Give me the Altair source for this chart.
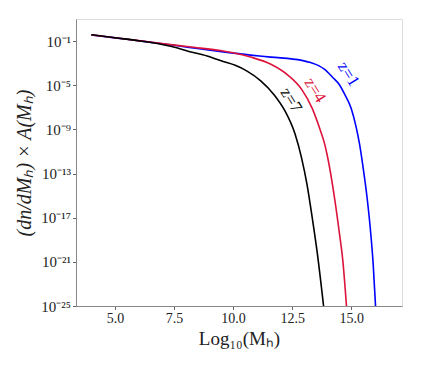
import altair as alt
import pandas as pd

# Curve z=1 (blue): x = log10(Mh), y given as log10 of the plotted value
x_z1 = [4.0, 5.0, 6.0, 7.0, 8.13, 9.58, 10.74, 11.6, 12.91, 13.28, 13.64, 13.86, 14.22, 14.5, 14.72, 15.0, 15.2, 15.35, 15.5, 15.67, 15.8, 15.93, 16.03]
ly_z1 = [-0.45, -0.71, -0.97, -1.24, -1.57, -1.98, -2.27, -2.45, -2.75, -2.95, -3.25, -3.55, -4.3, -4.95, -5.8, -7.1, -8.7, -10.3, -12.4, -15.15, -17.8, -21.2, -25.0]
# Curve z=4 (crimson)
x_z4 = [4.0, 5.0, 6.0, 7.0, 8.13, 9.58, 10.09, 10.74, 11.6, 12.33, 12.91, 13.35, 13.71, 13.86, 14.0, 14.29, 14.5, 14.65, 14.8]
ly_z4 = [-0.44, -0.70, -0.96, -1.22, -1.52, -1.90, -2.1, -2.45, -3.1, -4.1, -5.4, -7.1, -9.2, -10.2, -11.5, -15.15, -18.4, -21.0, -25.0]
# Curve z=7 (black)
x_z7 = [4.0, 5.0, 6.0, 6.68, 7.4, 8.13, 8.9, 9.58, 10.09, 10.59, 11.17, 11.75, 12.19, 12.62, 12.9, 13.13, 13.35, 13.57, 13.83]
ly_z7 = [-0.42, -0.70, -0.97, -1.18, -1.5, -1.94, -2.35, -2.85, -3.2, -3.72, -4.6, -5.9, -7.3, -9.4, -11.6, -14.0, -17.0, -20.3, -25.0]

labels = ["z=1", "z=4", "z=7"]
label_x = [14.88, 13.47, 12.45]
label_ly = [-4.0, -5.45, -6.36]
colors = ["#0000ff", "#dc143c", "#000000"]

x_ticks = [5.0, 7.5, 10.0, 12.5, 15.0]
y_ticks = [1e-1, 1e-5, 1e-9, 1e-13, 1e-17, 1e-21, 1e-25]
y_tick_text = ["10⁻¹", "10⁻⁵", "10⁻⁹", "10⁻¹³", "10⁻¹⁷", "10⁻²¹", "10⁻²⁵"]
y_tick_exp = [-1, -5, -9, -13, -17, -21, -25]

rows = []
for name, xs, lys in [("z=1", x_z1, ly_z1), ("z=4", x_z4, ly_z4), ("z=7", x_z7, ly_z7)]:
    for i, (a, b) in enumerate(zip(xs, lys)):
        rows.append({"series": name, "x": a, "y": 10.0 ** b, "order": i})
df = pd.DataFrame(rows)
lab = pd.DataFrame({"series": labels, "x": label_x, "y": [10.0 ** v for v in label_ly]})

expr = "''"
for e, t in zip(reversed(y_tick_exp), reversed(y_tick_text)):
    expr = f"round(log(datum.value)/LN10) == {e} ? '{t}' : ({expr})"

FONT = "Liberation Serif"

xscale = alt.Scale(domain=[3.35, 17.15], nice=False, zero=False)
yscale = alt.Scale(type="log", domain=[1e-25, 10], nice=False)
color = alt.Color("series:N", scale=alt.Scale(domain=labels, range=colors), legend=None)

lines = alt.Chart(df).mark_line(strokeWidth=1.6, interpolate="monotone", clip=True).encode(
    x=alt.X("x:Q", scale=xscale,
            axis=alt.Axis(values=x_ticks, format=".1f", title="Log₁₀(Mₕ)", grid=False,
                          labelFont=FONT, labelFontSize=14, titleFont=FONT, titleFontSize=19,
                          titleFontWeight="normal", labelColor="#222", titleColor="#222",
                          tickColor="#666", domainColor="#888", tickSize=3.5, labelPadding=2, titlePadding=4)),
    y=alt.Y("y:Q", scale=yscale,
            axis=alt.Axis(values=y_ticks, labelExpr=expr, title="(dn/dMₕ) × A(Mₕ)", grid=False,
                          labelFont=FONT, labelFontSize=15, titleFont=FONT, titleFontSize=20,
                          titleFontStyle="italic", titleFontWeight="normal", labelColor="#222",
                          titleColor="#222", tickColor="#666", domainColor="#888", tickSize=3.5,
                          labelPadding=2, titlePadding=6)),
    color=color,
    order="order:Q",
)

text = alt.Chart(lab).mark_text(font=FONT, fontSize=17, angle=58, align="center", baseline="middle").encode(
    x=alt.X("x:Q", scale=xscale),
    y=alt.Y("y:Q", scale=yscale),
    text="series:N",
    color=color,
)

chart = (lines + text).properties(
    width=326, height=287,
    padding={"left": 6, "top": 11, "right": 5, "bottom": 5},
).configure_view(stroke="#888", strokeWidth=1.2).configure(background="white")

chart.save("out.html", embed_options={"renderer": "svg", "actions": False})
